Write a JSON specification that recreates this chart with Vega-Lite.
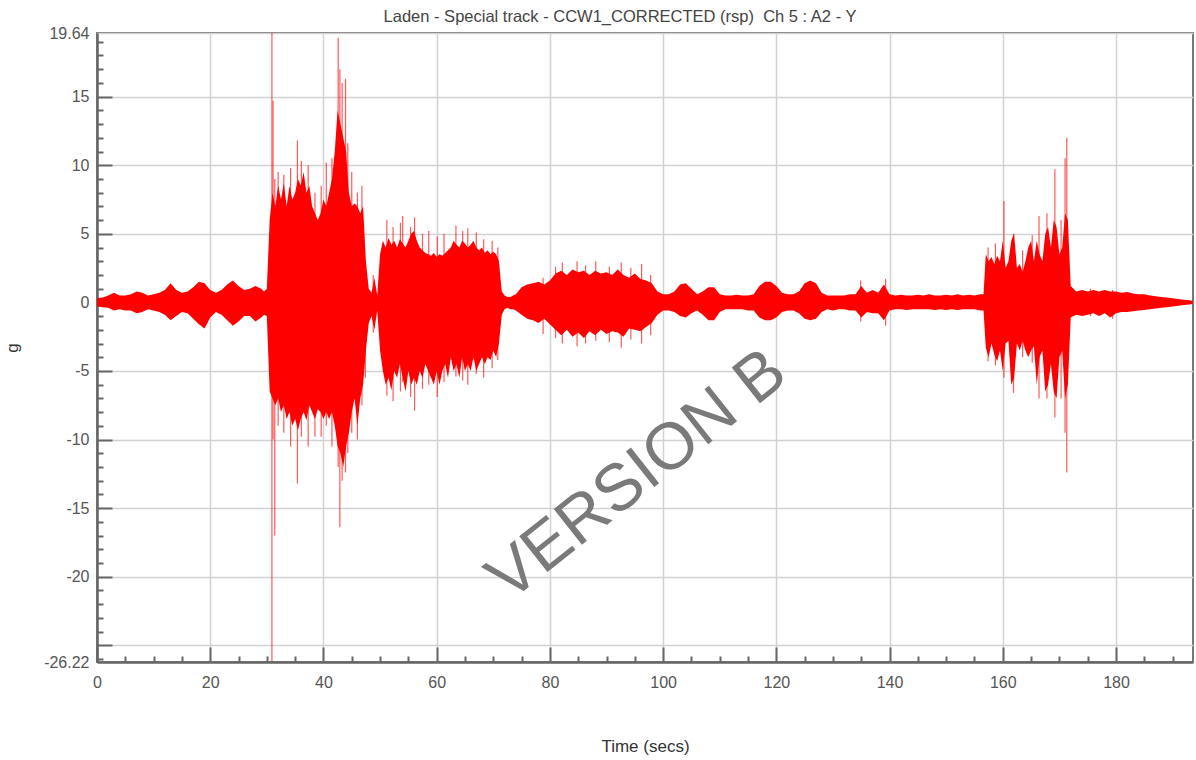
{
"$schema": "https://vega.github.io/schema/vega-lite/v6.json",
"width": 1096,
"height": 629,
"autosize": {"type": "none"},
"padding": {"left": 97, "top": 33, "right": 3, "bottom": 98},
"background": "white",
"title": {"text": "Laden - Special track - CCW1_CORRECTED (rsp)\u00a0 Ch 5 : A2 - Y", "font": "Liberation Sans", "fontSize": 16.5, "fontWeight": "normal", "color": "#444444", "offset": 8, "dx": -25, "dy": 8},
"config": {
  "view": {"stroke": "#777777", "strokeWidth": 2},
  "axis": {"labelFont": "Liberation Sans", "labelFontSize": 16, "labelColor": "#555555", "titleFont": "Liberation Sans", "titleFontSize": 17, "titleFontWeight": "normal", "titleColor": "#333333"}
},
"datasets": {
"env": [
{"t":0,"hi":0.3,"lo":-0.3},{"t":1,"hi":0.35,"lo":-0.35},{"t":2,"hi":0.5,"lo":-0.4},{"t":3,"hi":0.7,"lo":-0.6},{"t":4,"hi":0.5,"lo":-0.5},{"t":5,"hi":0.5,"lo":-0.6},{"t":6,"hi":0.6,"lo":-0.6},{"t":7,"hi":0.8,"lo":-0.8},{"t":8,"hi":0.7,"lo":-0.7},{"t":9,"hi":0.5,"lo":-0.5},
{"t":10,"hi":0.6,"lo":-0.6},{"t":11,"hi":0.7,"lo":-0.7},{"t":12,"hi":0.9,"lo":-0.9},{"t":13,"hi":1.4,"lo":-1.3},{"t":14,"hi":0.9,"lo":-1.0},{"t":15,"hi":0.7,"lo":-0.7},{"t":16,"hi":0.8,"lo":-0.8},{"t":17,"hi":1.1,"lo":-1.2},{"t":18,"hi":1.5,"lo":-1.6},{"t":19,"hi":1.4,"lo":-1.9},
{"t":20,"hi":0.9,"lo":-1.1},{"t":21,"hi":0.7,"lo":-0.7},{"t":22,"hi":0.9,"lo":-0.9},{"t":23,"hi":1.3,"lo":-1.3},{"t":24,"hi":1.6,"lo":-1.7},{"t":25,"hi":1.2,"lo":-1.4},{"t":26,"hi":0.9,"lo":-1.0},{"t":27,"hi":1.0,"lo":-1.0},{"t":28,"hi":1.2,"lo":-1.4},{"t":29,"hi":1.0,"lo":-1.1},{"t":29.5,"hi":0.8,"lo":-0.9},
{"t":30,"hi":1.0,"lo":-1.0},{"t":30.5,"hi":6.0,"lo":-6.5},{"t":31,"hi":8.0,"lo":-7.0},{"t":31.5,"hi":7.0,"lo":-7.5},{"t":32,"hi":8.5,"lo":-7.0},{"t":32.5,"hi":7.5,"lo":-8.0},{"t":33,"hi":8.7,"lo":-7.5},{"t":33.5,"hi":7.0,"lo":-8.5},{"t":34,"hi":8.5,"lo":-8.0},{"t":34.5,"hi":7.5,"lo":-9.0},
{"t":35,"hi":8.0,"lo":-8.5},{"t":35.5,"hi":9.0,"lo":-9.3},{"t":36,"hi":8.5,"lo":-8.5},{"t":36.5,"hi":9.5,"lo":-8.0},{"t":37,"hi":8.0,"lo":-8.6},{"t":37.5,"hi":8.5,"lo":-7.5},{"t":38,"hi":7.0,"lo":-8.0},{"t":38.5,"hi":6.5,"lo":-8.5},{"t":39,"hi":6.0,"lo":-7.8},{"t":39.5,"hi":6.5,"lo":-8.0},
{"t":40,"hi":7.5,"lo":-8.5},{"t":40.5,"hi":7.0,"lo":-8.0},{"t":41,"hi":8.0,"lo":-8.5},{"t":41.5,"hi":9.0,"lo":-8.0},{"t":42,"hi":11.0,"lo":-9.0},{"t":42.5,"hi":14.0,"lo":-10.5},{"t":43,"hi":13.0,"lo":-11.0},{"t":43.5,"hi":12.0,"lo":-12.0},{"t":44,"hi":11.0,"lo":-10.5},{"t":44.5,"hi":8.0,"lo":-9.5},
{"t":45,"hi":7.0,"lo":-8.0},{"t":45.5,"hi":7.2,"lo":-7.0},{"t":46,"hi":7.0,"lo":-9.0},{"t":46.5,"hi":6.5,"lo":-7.0},{"t":47,"hi":7.0,"lo":-6.0},{"t":47.5,"hi":3.0,"lo":-3.5},{"t":48,"hi":1.0,"lo":-1.5},{"t":48.5,"hi":0.7,"lo":-1.0},{"t":49,"hi":1.8,"lo":-2.0},{"t":49.5,"hi":0.5,"lo":-0.6},
{"t":50,"hi":3.5,"lo":-3.5},{"t":50.5,"hi":4.5,"lo":-5.0},{"t":51,"hi":4.0,"lo":-6.0},{"t":51.5,"hi":4.7,"lo":-5.5},{"t":52,"hi":4.2,"lo":-6.4},{"t":52.5,"hi":4.5,"lo":-5.0},{"t":53,"hi":4.0,"lo":-5.5},{"t":53.5,"hi":4.6,"lo":-4.5},{"t":54,"hi":4.3,"lo":-5.5},{"t":54.5,"hi":4.0,"lo":-6.5},
{"t":55,"hi":4.5,"lo":-5.0},{"t":55.5,"hi":5.0,"lo":-6.0},{"t":56,"hi":5.2,"lo":-5.5},{"t":56.5,"hi":4.5,"lo":-6.0},{"t":57,"hi":4.0,"lo":-5.0},{"t":57.5,"hi":3.8,"lo":-5.5},{"t":58,"hi":3.6,"lo":-4.5},{"t":58.5,"hi":3.5,"lo":-5.0},{"t":59,"hi":3.4,"lo":-5.5},{"t":59.5,"hi":3.6,"lo":-6.0},
{"t":60,"hi":3.3,"lo":-5.0},{"t":60.5,"hi":3.5,"lo":-6.0},{"t":61,"hi":3.4,"lo":-5.0},{"t":61.5,"hi":3.6,"lo":-4.5},{"t":62,"hi":3.8,"lo":-5.5},{"t":62.5,"hi":4.0,"lo":-4.0},{"t":63,"hi":4.5,"lo":-5.0},{"t":63.5,"hi":4.2,"lo":-4.5},{"t":64,"hi":4.0,"lo":-5.5},{"t":64.5,"hi":4.5,"lo":-4.0},
{"t":65,"hi":4.3,"lo":-5.0},{"t":65.5,"hi":4.0,"lo":-4.5},{"t":66,"hi":4.2,"lo":-5.0},{"t":66.5,"hi":4.5,"lo":-4.0},{"t":67,"hi":4.0,"lo":-5.0},{"t":67.5,"hi":3.8,"lo":-4.5},{"t":68,"hi":4.0,"lo":-4.0},{"t":68.5,"hi":3.6,"lo":-4.5},{"t":69,"hi":3.8,"lo":-4.0},{"t":69.5,"hi":3.5,"lo":-4.2},
{"t":70,"hi":3.7,"lo":-3.5},{"t":70.5,"hi":3.5,"lo":-4.0},{"t":71,"hi":3.0,"lo":-3.0},{"t":71.5,"hi":0.8,"lo":-0.9},{"t":72,"hi":0.5,"lo":-0.5},{"t":72.5,"hi":0.4,"lo":-0.4},{"t":73,"hi":0.4,"lo":-0.5},{"t":73.5,"hi":0.5,"lo":-0.5},{"t":74,"hi":0.6,"lo":-0.6},
{"t":75,"hi":1.1,"lo":-0.9},{"t":76,"hi":1.3,"lo":-1.2},{"t":77,"hi":1.4,"lo":-1.3},{"t":78,"hi":1.5,"lo":-1.5},{"t":79,"hi":1.3,"lo":-1.2},{"t":80,"hi":1.6,"lo":-1.6},{"t":81,"hi":2.1,"lo":-2.0},{"t":82,"hi":2.3,"lo":-2.4},{"t":83,"hi":2.0,"lo":-2.0},{"t":84,"hi":2.4,"lo":-2.5},
{"t":85,"hi":2.2,"lo":-2.2},{"t":86,"hi":2.3,"lo":-2.6},{"t":87,"hi":2.0,"lo":-2.1},{"t":88,"hi":2.3,"lo":-2.4},{"t":89,"hi":2.1,"lo":-2.0},{"t":90,"hi":2.2,"lo":-2.3},{"t":91,"hi":2.0,"lo":-2.1},{"t":92,"hi":2.4,"lo":-2.2},{"t":93,"hi":2.0,"lo":-2.5},{"t":94,"hi":1.8,"lo":-1.9},
{"t":95,"hi":2.1,"lo":-2.0},{"t":96,"hi":1.7,"lo":-2.1},{"t":97,"hi":1.6,"lo":-1.8},{"t":98,"hi":1.4,"lo":-1.5},{"t":99,"hi":0.8,"lo":-0.9},{"t":100,"hi":0.6,"lo":-0.6},{"t":101,"hi":0.6,"lo":-0.6},{"t":102,"hi":0.8,"lo":-0.7},{"t":103,"hi":1.3,"lo":-1.0},{"t":104,"hi":1.4,"lo":-1.1},
{"t":105,"hi":1.0,"lo":-0.8},{"t":106,"hi":0.6,"lo":-0.6},{"t":107,"hi":0.8,"lo":-0.9},{"t":108,"hi":1.1,"lo":-1.3},{"t":109,"hi":1.1,"lo":-1.3},{"t":110,"hi":0.6,"lo":-0.7},{"t":111,"hi":0.5,"lo":-0.5},{"t":112,"hi":0.5,"lo":-0.5},{"t":113,"hi":0.55,"lo":-0.5},{"t":114,"hi":0.5,"lo":-0.5},
{"t":115,"hi":0.5,"lo":-0.6},{"t":116,"hi":0.6,"lo":-0.6},{"t":117,"hi":1.2,"lo":-1.1},{"t":118,"hi":1.5,"lo":-1.3},{"t":119,"hi":1.5,"lo":-1.3},{"t":120,"hi":1.2,"lo":-1.1},{"t":121,"hi":0.7,"lo":-0.7},{"t":122,"hi":0.6,"lo":-0.6},{"t":123,"hi":0.6,"lo":-0.6},{"t":124,"hi":0.8,"lo":-0.8},
{"t":125,"hi":1.4,"lo":-1.2},{"t":126,"hi":1.6,"lo":-1.3},{"t":127,"hi":1.4,"lo":-1.2},{"t":128,"hi":0.7,"lo":-0.7},{"t":129,"hi":0.5,"lo":-0.5},{"t":130,"hi":0.5,"lo":-0.6},{"t":131,"hi":0.5,"lo":-0.5},{"t":132,"hi":0.5,"lo":-0.5},{"t":133,"hi":0.6,"lo":-0.6},{"t":134,"hi":0.6,"lo":-0.6},
{"t":135,"hi":1.2,"lo":-1.1},{"t":136,"hi":0.7,"lo":-0.7},{"t":137,"hi":0.9,"lo":-0.8},{"t":138,"hi":0.7,"lo":-0.8},{"t":139,"hi":1.3,"lo":-1.3},{"t":140,"hi":0.6,"lo":-0.6},{"t":141,"hi":0.5,"lo":-0.5},{"t":142,"hi":0.55,"lo":-0.5},{"t":143,"hi":0.5,"lo":-0.55},{"t":144,"hi":0.5,"lo":-0.5},
{"t":145,"hi":0.55,"lo":-0.5},{"t":146,"hi":0.5,"lo":-0.5},{"t":147,"hi":0.6,"lo":-0.5},{"t":148,"hi":0.5,"lo":-0.55},{"t":149,"hi":0.5,"lo":-0.5},{"t":150,"hi":0.55,"lo":-0.55},{"t":151,"hi":0.5,"lo":-0.5},{"t":152,"hi":0.6,"lo":-0.55},{"t":153,"hi":0.5,"lo":-0.5},{"t":154,"hi":0.55,"lo":-0.5},
{"t":155,"hi":0.5,"lo":-0.5},{"t":156,"hi":0.6,"lo":-0.6},{"t":156.6,"hi":0.6,"lo":-0.6},{"t":157,"hi":3.5,"lo":-3.3},{"t":157.5,"hi":3.0,"lo":-4.0},{"t":158,"hi":3.3,"lo":-3.0},{"t":158.5,"hi":2.8,"lo":-3.8},{"t":159,"hi":3.4,"lo":-4.3},{"t":159.5,"hi":3.0,"lo":-3.5},
{"t":160,"hi":4.5,"lo":-5.0},{"t":160.5,"hi":2.5,"lo":-3.0},{"t":161,"hi":3.0,"lo":-2.8},{"t":161.5,"hi":4.5,"lo":-6.0},{"t":162,"hi":5.0,"lo":-5.5},{"t":162.5,"hi":2.5,"lo":-3.0},{"t":163,"hi":2.8,"lo":-3.5},{"t":163.5,"hi":2.2,"lo":-2.8},{"t":164,"hi":3.0,"lo":-3.5},{"t":164.5,"hi":4.0,"lo":-4.0},
{"t":165,"hi":4.5,"lo":-3.5},{"t":165.5,"hi":3.0,"lo":-3.2},{"t":166,"hi":4.5,"lo":-6.0},{"t":166.5,"hi":3.5,"lo":-4.0},{"t":167,"hi":3.0,"lo":-3.5},{"t":167.5,"hi":5.0,"lo":-6.5},{"t":168,"hi":5.5,"lo":-6.0},{"t":168.5,"hi":4.0,"lo":-4.5},{"t":169,"hi":6.0,"lo":-6.5},{"t":169.5,"hi":5.5,"lo":-7.0},
{"t":170,"hi":3.5,"lo":-4.0},{"t":170.5,"hi":4.0,"lo":-3.5},{"t":171,"hi":6.5,"lo":-7.0},{"t":171.5,"hi":6.0,"lo":-6.0},{"t":172,"hi":1.2,"lo":-1.1},{"t":172.5,"hi":1.0,"lo":-1.0},{"t":173,"hi":0.8,"lo":-0.9},{"t":174,"hi":0.9,"lo":-1.0},
{"t":175,"hi":0.8,"lo":-0.9},{"t":176,"hi":0.9,"lo":-0.8},{"t":177,"hi":0.8,"lo":-1.0},{"t":178,"hi":0.9,"lo":-0.8},{"t":179,"hi":0.8,"lo":-1.1},{"t":180,"hi":0.8,"lo":-0.8},{"t":181,"hi":0.7,"lo":-0.7},{"t":182,"hi":0.75,"lo":-0.7},{"t":183,"hi":0.65,"lo":-0.65},{"t":184,"hi":0.6,"lo":-0.6},
{"t":185,"hi":0.6,"lo":-0.55},{"t":186,"hi":0.5,"lo":-0.5},{"t":187,"hi":0.45,"lo":-0.45},{"t":188,"hi":0.4,"lo":-0.4},{"t":189,"hi":0.35,"lo":-0.35},{"t":190,"hi":0.3,"lo":-0.3},{"t":191,"hi":0.25,"lo":-0.25},{"t":192,"hi":0.2,"lo":-0.2},{"t":193,"hi":0.15,"lo":-0.15},{"t":193.6,"hi":0.1,"lo":-0.1}
],
"spikes": [
{"t":30.9,"a":19.64,"b":-26.22},{"t":31.1,"a":14.7,"b":-10},{"t":31.4,"a":9,"b":-17},{"t":32.0,"a":9.5,"b":-9},{"t":33.0,"a":9.3,"b":-9.5},{"t":34.2,"a":9.8,"b":-10.5},{"t":35.4,"a":11.8,"b":-13.2},{"t":36.1,"a":10.3,"b":-9.8},{"t":37.3,"a":10.0,"b":-10.5},{"t":38.5,"a":8.0,"b":-9.8},
{"t":39.6,"a":8.5,"b":-9.8},{"t":40.5,"a":10.2,"b":-9.0},{"t":41.5,"a":10.5,"b":-10.5},{"t":42.6,"a":19.3,"b":-12},{"t":42.9,"a":17.0,"b":-16.4},{"t":43.3,"a":16.0,"b":-13},{"t":43.9,"a":16.3,"b":-12.4},{"t":44.3,"a":11.6,"b":-11},{"t":45.0,"a":9.5,"b":-9.5},{"t":46.0,"a":8.0,"b":-10.0},
{"t":46.8,"a":8.5,"b":-7.5},{"t":47.4,"a":3,"b":-5.5},{"t":48.8,"a":2.0,"b":-2.2},
{"t":51.2,"a":6.0,"b":-6.8},{"t":52.3,"a":5.5,"b":-7.2},{"t":53.6,"a":5.8,"b":-6.5},{"t":54.0,"a":6.3,"b":-5.8},{"t":55.4,"a":5.5,"b":-6.9},{"t":56.1,"a":6.2,"b":-7.9},{"t":57.5,"a":5.0,"b":-6.3},{"t":58.6,"a":5.2,"b":-6.0},{"t":60.1,"a":4.8,"b":-6.9},
{"t":61.3,"a":5.0,"b":-5.8},{"t":63.4,"a":5.6,"b":-5.4},{"t":64.6,"a":5.2,"b":-5.7},{"t":65.5,"a":5.4,"b":-6.0},{"t":67.0,"a":5.1,"b":-5.2},{"t":68.3,"a":4.6,"b":-5.5},{"t":69.8,"a":4.5,"b":-4.8},{"t":70.8,"a":4.0,"b":-4.2},
{"t":78.8,"a":1.8,"b":-2.3},{"t":81.0,"a":2.6,"b":-2.6},{"t":82.2,"a":2.9,"b":-3.0},{"t":84.8,"a":3.0,"b":-3.2},{"t":86.3,"a":2.7,"b":-3.0},{"t":88.1,"a":3.0,"b":-2.8},{"t":90.5,"a":2.6,"b":-2.9},{"t":92.6,"a":2.9,"b":-3.3},{"t":94.3,"a":2.5,"b":-2.7},{"t":96.2,"a":2.8,"b":-3.0},{"t":97.8,"a":2.0,"b":-2.4},
{"t":134.9,"a":1.6,"b":-1.4},{"t":139.3,"a":1.7,"b":-1.7},
{"t":157.4,"a":4.0,"b":-4.3},{"t":158.7,"a":4.3,"b":-4.6},{"t":160.2,"a":7.4,"b":-5.5},{"t":161.9,"a":5.0,"b":-6.6},{"t":163.5,"a":3.8,"b":-4.0},{"t":165.2,"a":4.9,"b":-4.4},{"t":166.4,"a":6.3,"b":-7.0},{"t":167.8,"a":6.5,"b":-7.0},{"t":169.2,"a":9.7,"b":-8.4},{"t":170.3,"a":6.0,"b":-7.0},
{"t":171.0,"a":10.5,"b":-9.5},{"t":171.3,"a":12.0,"b":-12.4},{"t":175.5,"a":1.0,"b":-1.0},{"t":179.4,"a":0.9,"b":-1.2}
],
"watermark": [{"t": 95.4, "g": -12.6, "label": "VERSION B"}]
},
"layer": [
{
  "data": {"name": "env"},
  "mark": {"type": "area", "color": "#ff0000", "opacity": 1},
  "encoding": {
    "x": {"field": "t", "type": "quantitative", "scale": {"domain": [0, 193.6], "nice": false, "zero": false},
      "axis": {"orient": "bottom", "values": [0,20,40,60,80,100,120,140,160,180], "labelExpr": "datum.value + ''", "labelFlush": false, "labelOverlap": false, "labelPadding": 12, "ticks": false, "tickSize": 0, "grid": true, "gridColor": "#d2d2d2", "gridWidth": 1.5, "domainColor": "#666666", "domainWidth": 2.5, "title": "Time (secs)", "titlePadding": 48}},
    "y": {"field": "hi", "type": "quantitative", "scale": {"domain": [-26.22, 19.64], "nice": false, "zero": false},
      "axis": {"orient": "left", "values": [-26.22,-25,-20,-15,-10,-5,0,5,10,15,19.64], "labelExpr": "datum.value == -25 ? '' : datum.value + ''", "labelOverlap": false, "labelFlush": false, "labelPadding": 8, "ticks": false, "tickSize": 0, "grid": true, "gridColor": "#d2d2d2", "gridWidth": 1.5, "domainColor": "#666666", "domainWidth": 2.5, "title": "g", "titlePadding": 22}},
    "y2": {"field": "lo"}
  }
},
{
  "data": {"name": "spikes"},
  "mark": {"type": "rule", "color": "#ff0000", "opacity": 0.65, "strokeWidth": 1.2},
  "encoding": {
    "x": {"field": "t", "type": "quantitative",
      "axis": {"orient": "bottom", "values": [0,20,40,60,80,100,120,140,160,180], "labels": false, "grid": false, "domain": false, "ticks": true, "tickSize": -15, "tickColor": "#666666", "tickWidth": 2, "title": null}},
    "y": {"field": "a", "type": "quantitative",
      "axis": {"orient": "left", "values": [-25,-20,-15,-10,-5,0,5,10,15], "labels": false, "grid": false, "domain": false, "ticks": true, "tickSize": -15, "tickColor": "#666666", "tickWidth": 2, "title": null}},
    "y2": {"field": "b"}
  }
},
{
  "data": {"name": "watermark"},
  "mark": {"type": "text", "font": "Liberation Sans", "fontSize": 66, "color": "#7a7a7a", "angle": -38.5, "align": "center", "baseline": "middle"},
  "encoding": {
    "x": {"field": "t", "type": "quantitative",
      "axis": {"orient": "bottom", "values": [5,10,15,25,30,35,45,50,55,65,70,75,85,90,95,105,110,115,125,130,135,145,150,155,165,170,175,185,190], "labels": false, "grid": false, "domain": false, "ticks": true, "tickSize": -6, "tickColor": "#666666", "tickWidth": 2, "title": null}},
    "y": {"field": "g", "type": "quantitative",
      "axis": {"orient": "left", "values": [-26,-24,-23,-22,-21,-19,-18,-17,-16,-14,-13,-12,-11,-9,-8,-7,-6,-4,-3,-2,-1,1,2,3,4,6,7,8,9,11,12,13,14,16,17,18,19], "labels": false, "grid": false, "domain": false, "ticks": true, "tickSize": -6, "tickColor": "#666666", "tickWidth": 2, "title": null}},
    "text": {"field": "label"}
  }
}
],
"resolve": {"axis": {"x": "independent", "y": "independent"}}
}
